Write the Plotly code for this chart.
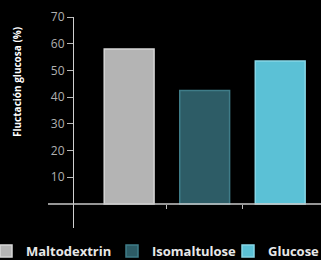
import plotly.graph_objects as go

categories = ["Maltodextrin", "Isomaltulose", "Glucose"]
values = [58, 42.5, 53.5]
fill_colors = ["#b4b4b4", "#2d5c66", "#5bc1d6"]
line_colors = ["#d6d6d6", "#3f7c88", "#86d6e6"]
y_tickvals = [10, 20, 30, 40, 50, 60, 70]
x_tickvals = [0.5, 1.5]
y_title = "Fluctación glucosa (%)"

W, H = 321, 260
ml, mr, mt, mb = 74, 0, 17, 32
pw, ph = W - ml - mr, H - mt - mb

def px_x(p):
    return (p - ml) / pw

def px_y(p):
    return (H - mb - p) / ph

legend_ids = ["legend", "legend2", "legend3"]
legend_starts = [-14, 112, 228]

fig = go.Figure()
for i, (c, v) in enumerate(zip(categories, values)):
    fig.add_trace(go.Bar(
        x=[i], y=[v], name=c, width=0.66, legend=legend_ids[i],
        marker=dict(color=fill_colors[i], line=dict(color=line_colors[i], width=1.5)),
    ))

legend_common = dict(
    orientation="h", xanchor="left", y=px_y(251), yanchor="middle",
    font=dict(family="Open Sans", size=13, color="#e8e8e8", weight="bold"),
    bgcolor="rgba(0,0,0,0)", itemclick=False, itemdoubleclick=False,
)

fig.update_layout(
    width=W, height=H,
    margin=dict(l=ml, r=mr, t=mt, b=mb, autoexpand=False),
    paper_bgcolor="#000000", plot_bgcolor="#000000",
    barmode="overlay",
    font=dict(family="Open Sans", color="#b0b0b0", size=11),
    showlegend=True,
    legend=dict(x=px_x(legend_starts[0]), **legend_common),
    legend2=dict(x=px_x(legend_starts[1]), **legend_common),
    legend3=dict(x=px_x(legend_starts[2]), **legend_common),
    xaxis=dict(
        range=[-0.73, 2.54], anchor="free", position=px_y(204),
        tickvals=x_tickvals, ticks="outside", ticklen=4, tickcolor="#bbbbbb", tickwidth=1,
        showticklabels=False, showline=False, showgrid=False, zeroline=False, fixedrange=True,
    ),
    yaxis=dict(
        range=[-9, 70], tickvals=y_tickvals, ticks="outside", ticklen=6, tickwidth=1,
        tickcolor="#bbbbbb", showline=True, linecolor="#d0d0d0", linewidth=1,
        showgrid=False, zeroline=False, tickfont=dict(size=12, color="#b0b0b0"),
        fixedrange=True,
    ),
    shapes=[dict(type="line", xref="paper", yref="y", x0=px_x(48), x1=1, y0=0, y1=0,
                 line=dict(color="#c8c8c8", width=1.5), layer="above")],
    annotations=[dict(text=y_title, xref="paper", yref="paper", x=px_x(17), y=px_y(82),
                      showarrow=False, textangle=-90, xanchor="center", yanchor="middle",
                      font=dict(family="Open Sans", size=10, color="#ffffff", weight="bold"))],
)

fig.write_html(
    "out.html",
    config={"displayModeBar": False},
    post_script="document.body.style.margin='0';document.body.style.background='#000';",
)
